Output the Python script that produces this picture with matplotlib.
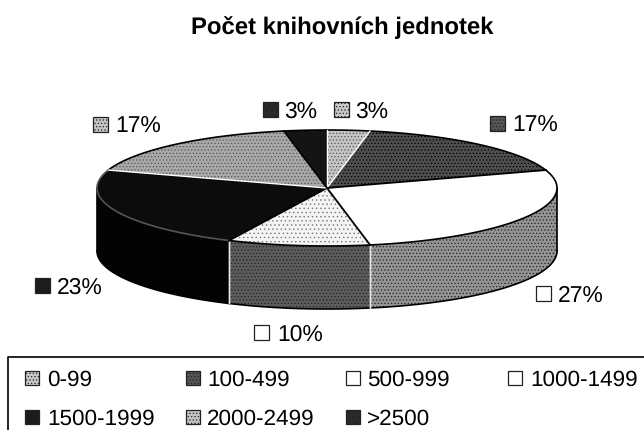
import numpy as np
import matplotlib
matplotlib.use('Agg')
import matplotlib.pyplot as plt
from matplotlib.patches import Polygon, Rectangle

plt.rcParams['font.family'] = ['Liberation Sans', 'DejaVu Sans']
plt.rcParams['hatch.linewidth'] = 0.5
plt.rcParams['text.hinting'] = 'no_hinting'

title = 'Počet knihovních jednotek'
categories = ['0-99', '100-499', '500-999', '1000-1499', '1500-1999', '2000-2499', '>2500']
values = [3, 17, 27, 10, 23, 17, 3]
top_colors = ['#c4c4c4', '#4e4e4e', '#ffffff', '#f4f4f4', '#0c0c0c', '#a8a8a8', '#141414']
side_colors = ['#909090', '#303030', '#949494', '#5c5c5c', '#030303', '#707070', '#0a0a0a']
swatch_colors = ['#c8c8c8', '#555555', '#ffffff', '#ffffff', '#1c1c1c', '#c4c4c4', '#2a2a2a']
top_hatches = ['.....', '.....', None, '....', None, '.....', None]
side_hatches = [None, None, '.....', '.....', None, None, None]
swatch_hatches = ['.....', '.....', None, None, None, '.....', '...']

fig = plt.figure(figsize=(6.44, 4.31), dpi=100)
ax = fig.add_axes([0, 0, 1, 1])
ax.set_xlim(0, 644)
ax.set_ylim(431, 0)
ax.axis('off')

cx, cy, a, b, depth = 327, 189, 230, 58, 63


def px(t):
    return cx + a * np.sin(t), cy - b * np.cos(t)


edges = np.cumsum([0] + values) / sum(values) * 2 * np.pi

# side walls on the visible front half
for i in range(len(values)):
    lo, hi = max(edges[i], np.pi / 2), min(edges[i + 1], 3 * np.pi / 2)
    if hi <= lo:
        continue
    t = np.linspace(lo, hi, 80)
    x, y = px(t)
    pts = np.r_[np.c_[x, y], np.c_[x, y + depth][::-1]]
    ax.add_patch(Polygon(pts, closed=True, fc=side_colors[i], ec='none', zorder=1))
    if side_hatches[i]:
        ax.add_patch(Polygon(pts, closed=True, fc='none', hatch=side_hatches[i], lw=0,
                             ec='#222222', zorder=1.5))
    ax.plot(x, y + depth, color='black', lw=1.2, zorder=2)
    for tt in (lo, hi):
        if abs(tt - np.pi / 2) > 1e-6 and abs(tt - 3 * np.pi / 2) > 1e-6:
            xe, ye = px(tt)
            ax.plot([xe, xe], [ye, ye + depth], color='#e8e8e8', lw=1.0, zorder=3)

# outer vertical silhouette
for s in (np.pi / 2, 3 * np.pi / 2):
    xe, ye = px(s)
    ax.plot([xe, xe], [ye, ye + depth], color='black', lw=1.2, zorder=3)

# top slices
for i in range(len(values)):
    t = np.linspace(edges[i], edges[i + 1], 80)
    x, y = px(t)
    pts = np.r_[[[cx, cy]], np.c_[x, y]]
    ax.add_patch(Polygon(pts, closed=True, fc=top_colors[i], ec='none', zorder=4))
    if top_hatches[i]:
        ax.add_patch(Polygon(pts, closed=True, fc='none', hatch=top_hatches[i], lw=0,
                             ec='#777777' if i == 3 else '#000000' if i == 1 else '#555555', zorder=5))
    ax.plot(x, y, color='#555555' if i == 4 else 'black', lw=1.2, zorder=6)

# slice borders
for i, e in enumerate(edges[:-1]):
    xe, ye = px(e)
    white = i in (0, 1, 5)
    ax.plot([cx, xe], [cy, ye], color='white' if white else 'black',
            lw=1.0 if white else 1.3, zorder=7)

ax.text(342, 28, title, ha='center', va='center', fontsize=17.2, fontweight='bold')


def swatch(x, y, s, i):
    ax.add_patch(Rectangle((x, y - s / 2), s, s, fc=swatch_colors[i],
                           ec='#222222', lw=0.9, zorder=8, hatch=swatch_hatches[i]))


# data labels: swatch left, text x, y centre (category index order)
label_pos = [(334, 355, 110), (490, 512, 124), (536, 558, 294), (254, 277, 333),
             (35, 57, 286), (93, 115, 125), (263, 284, 110)]
for i, (sx, tx, ty) in enumerate(label_pos):
    swatch(sx, ty, 15, i)
    ax.text(tx, ty + 1.5, f'{values[i]}%', ha='left', va='center', fontsize=16.5, zorder=9)

# legend
ax.plot([644, 8, 8], [358, 358, 431], color='black', lw=1.2, clip_on=False)
col_sw = [25, 186, 346, 508]
col_txt = [47, 207, 367, 530]
row_y = [379, 418]
for i, c in enumerate(categories):
    r, k = divmod(i, 4)
    swatch(col_sw[k], row_y[r], 14, i)
    ax.text(col_txt[k], row_y[r] + 1.5, c, ha='left', va='center', fontsize=16.2, zorder=9)

fig.savefig('out.png', dpi=100)
